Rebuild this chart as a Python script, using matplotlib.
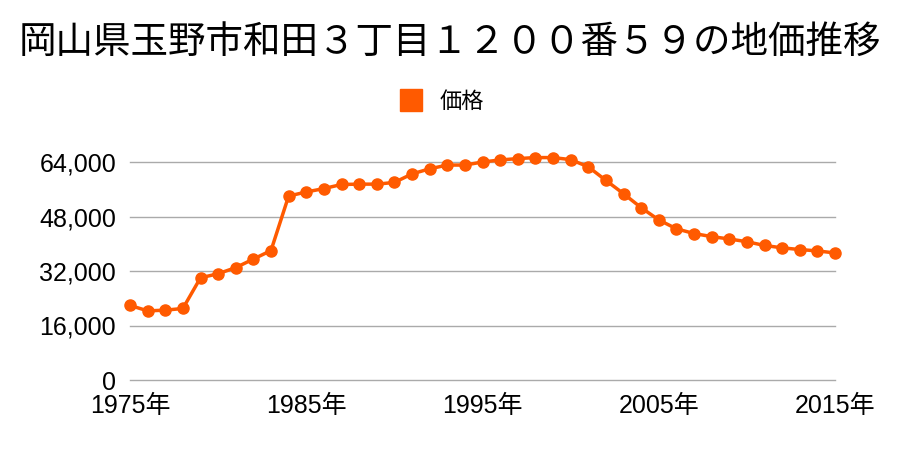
import matplotlib
matplotlib.use('Agg')
import matplotlib.pyplot as plt
from matplotlib.lines import Line2D

plt.rcParams['font.family'] = ['Noto Sans CJK JP', 'DejaVu Sans']

years = list(range(1975, 2016))
prices = [21900, 20300, 20500, 21000, 30000, 31200, 33000, 35500, 38000,
          54000, 55200, 56200, 57400, 57500, 57500, 58000, 60500, 62000,
          63100, 63100, 64000, 64600, 65000, 65300, 65300, 64700, 62600,
          58600, 54700, 50600, 47000, 44400, 43000, 42100, 41400, 40600,
          39500, 38800, 38300, 37900, 37300]
yticks = [0, 16000, 32000, 48000, 64000]
xticks = [1975, 1985, 1995, 2005, 2015]
title = '岡山県玉野市和田３丁目１２００番５９の地価推移'
color = '#ff5a00'
tick_font = ['Liberation Sans', 'Noto Sans CJK JP']

fig = plt.figure(figsize=(9, 4.5), dpi=100)
ax = fig.add_axes([130 / 900, 1 - 380 / 450, 705 / 900, 218 / 450])

ax.plot(years, prices, color=color, lw=2.5, marker='o', ms=8, clip_on=False, zorder=3)
ax.set_xlim(1975, 2015)
ax.set_ylim(0, 64000)
ax.set_yticks(yticks)
ax.set_yticklabels([f'{v:,}' for v in yticks], family=tick_font, fontsize=18)
ax.set_xticks(xticks)
ax.set_xticklabels([f'{y}年' for y in xticks], family=tick_font, fontsize=18)
ax.grid(axis='y', color='#aaaaaa', lw=1)
for gl in ax.get_ygridlines():
    gl.set_clip_on(False)
ax.set_axisbelow(True)
for s in ax.spines.values():
    s.set_visible(False)
ax.tick_params(length=0)
ax.tick_params(axis='y', pad=10)
ax.tick_params(axis='x', pad=10)

fig.text(0.5, 1 - 42 / 450, title, ha='center', va='center', fontsize=27)

handle = Line2D([], [], color=color, marker='s', ls='none', ms=16)
fig.legend([handle], ['価格'], loc='center', bbox_to_anchor=(0.485, 1 - 101 / 450),
           frameon=False, fontsize=16, handletextpad=0.3)

fig.savefig('out.png', dpi=100)
